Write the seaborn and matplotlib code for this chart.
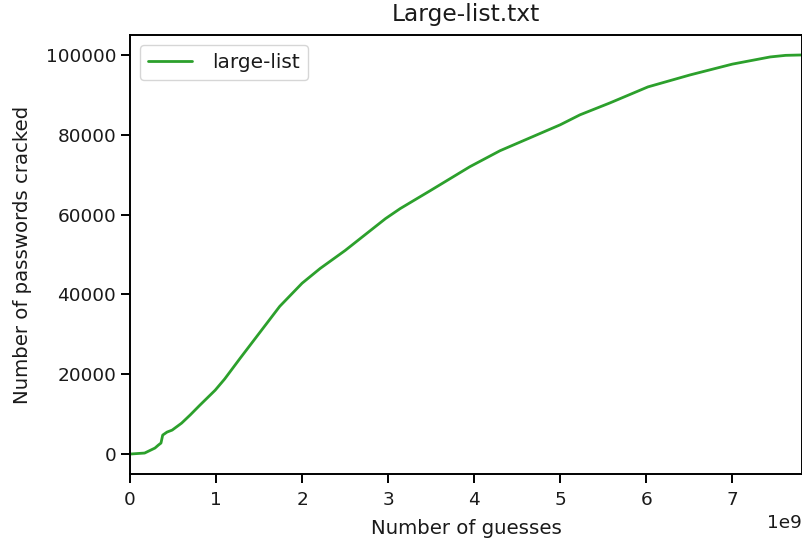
import matplotlib
matplotlib.use("Agg")
import matplotlib.pyplot as plt
import seaborn as sns
import pandas as pd

guesses = [0.0, 0.17e9, 0.29e9, 0.33e9, 0.36e9, 0.38e9, 0.43e9, 0.49e9, 0.60e9, 0.70e9,
           0.81e9, 0.99e9, 1.10e9, 1.28e9, 1.51e9, 1.74e9, 2.0e9, 2.21e9, 2.5e9,
           2.97e9, 3.14e9, 3.49e9, 3.95e9, 4.3e9, 5.0e9, 5.23e9, 5.58e9, 6.02e9,
           6.51e9, 7.0e9, 7.44e9, 7.62e9, 7.81e9]
cracked = [0, 250, 1500, 2250, 2750, 4750, 5500, 6000, 7750, 9800,
           12200, 16000, 18800, 24000, 30500, 37000, 42800, 46500, 51000,
           59000, 61500, 66000, 72000, 76000, 82500, 85000, 88000, 92000,
           95000, 97700, 99500, 99900, 100000]

df = pd.DataFrame({"guesses": guesses, "cracked": cracked})

sns.set_style("ticks")
plt.rcParams["font.family"] = ["DejaVu Sans"]
plt.rcParams["font.size"] = 13.3
plt.rcParams["axes.edgecolor"] = "black"
plt.rcParams["xtick.color"] = "black"
plt.rcParams["ytick.color"] = "black"
plt.rcParams["axes.labelcolor"] = "#1a1a1a"
plt.rcParams["text.color"] = "#1a1a1a"

fig = plt.figure(figsize=(8.02, 5.42), dpi=100)
ax = fig.add_axes([130 / 802, 1 - 474 / 542, 1 - 130 / 802, (474 - 35) / 542])

sns.lineplot(data=df, x="guesses", y="cracked", ax=ax, color="tab:green",
             linewidth=2.0, label="large-list")

ax.set_xlim(0, 7.81e9)
ax.set_ylim(-5000, 105000)
ax.set_xticks([0, 1e9, 2e9, 3e9, 4e9, 5e9, 6e9, 7e9])
ax.set_yticks([0, 20000, 40000, 60000, 80000, 100000])
ax.set_xlabel("Number of guesses", fontsize=14.2, labelpad=7)
ax.set_ylabel("Number of passwords cracked", fontsize=14.2, labelpad=10)
ax.set_title("Large-list.txt", fontsize=16.8, pad=10)
ax.tick_params(axis="both", labelsize=13.3, length=6.5, width=1.4, direction="out",
               labelcolor="#1a1a1a")
ax.tick_params(axis="x", pad=6)
ax.xaxis.get_offset_text().set_fontsize(13.3)
for s in ax.spines.values():
    s.set_linewidth(1.4)
ax.legend(loc="upper left", fontsize=14.5, handlelength=2.2, handletextpad=1.0)

fig.savefig("out.png", dpi=100)
